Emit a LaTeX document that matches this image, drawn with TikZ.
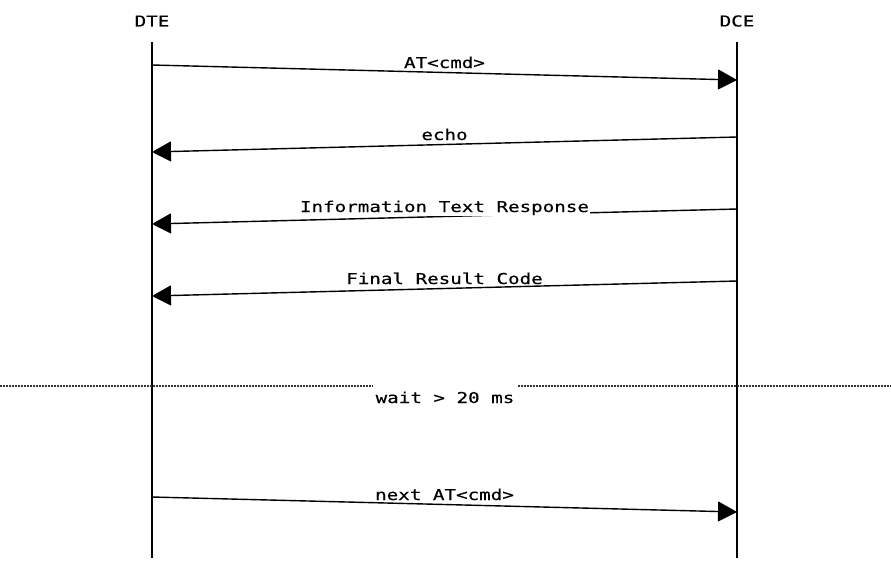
\documentclass[tikz,border=0pt]{standalone}
\usepackage{fontspec}
\newfontfamily\seqfont{DejaVu Sans Mono}[FakeStretch=1.28,FakeBold=0.4]
\usetikzlibrary{positioning,arrows.meta}
\tikzset{
>={Triangle[length=19pt,width=20pt]},
node distance=585pt,
head/.style={font=\seqfont\fontsize{15}{18}\selectfont, inner sep=0pt},
life/.style={line width=1.2pt},
msg/.style={->, line width=1.4pt},
lbl/.style={font=\seqfont\fontsize{15}{18}\selectfont, fill=white, inner sep=1pt, anchor=base, yshift=4.5pt},
waitlbl/.style={font=\seqfont\fontsize{15}{18}\selectfont, fill=white, inner sep=1pt, inner xsep=3pt, anchor=base},
waitline/.style={line width=1.2pt, black!80, dash pattern=on 2pt off 1pt},
}

\begin{document}
\begin{tikzpicture}[x=1pt,y=-1pt]
        \useasboundingbox (0,0) rectangle (891,576);
        \node[head] (dte) at (152,21) {DTE};
        \node[head, right of=dte] (dce) {DCE};

        % lifelines
        \coordinate (dte0) at (152,42);
        \coordinate (dte9) at (152,558);
        \coordinate (dce0) at (737,42);
        \coordinate (dce9) at (737,558);
        \draw[life] (dte0) -- (dte9);
        \draw[life] (dce0) -- (dce9);

        % messages
        \coordinate (dte1) at (152,65);
        \coordinate (dce1) at (737,80);
        \coordinate (dce2) at (737,137);
        \coordinate (dte2) at (152,152);
        \coordinate (dce3) at (737,209);
        \coordinate (dte3) at (152,224);
        \coordinate (dce4) at (737,281);
        \coordinate (dte4) at (152,296);
        \coordinate (dte6) at (152,497);
        \coordinate (dce6) at (737,512);

        \draw[msg] (dte1) -- node[lbl]{AT<cmd>} (dce1);
        \draw[msg] (dce2) -- node[lbl]{echo} (dte2);
        \draw[msg] (dce3) -- node[lbl]{Information Text Response} (dte3);
        \draw[msg] (dce4) -- node[lbl]{Final Result Code} (dte4);
        \draw[msg] (dte6) -- node[lbl]{next AT<cmd>} (dce6);

        % wait
        \node[waitlbl] (wait) at (445,403) {wait > 20 ms};
        \coordinate (w0) at (0,386);
        \coordinate (w1) at (891,386);
        \draw[waitline] (w0) -- (wait.west |- w0);
        \draw[waitline] (wait.east |- w0) -- (w1);
    \end{tikzpicture}
\end{document}
